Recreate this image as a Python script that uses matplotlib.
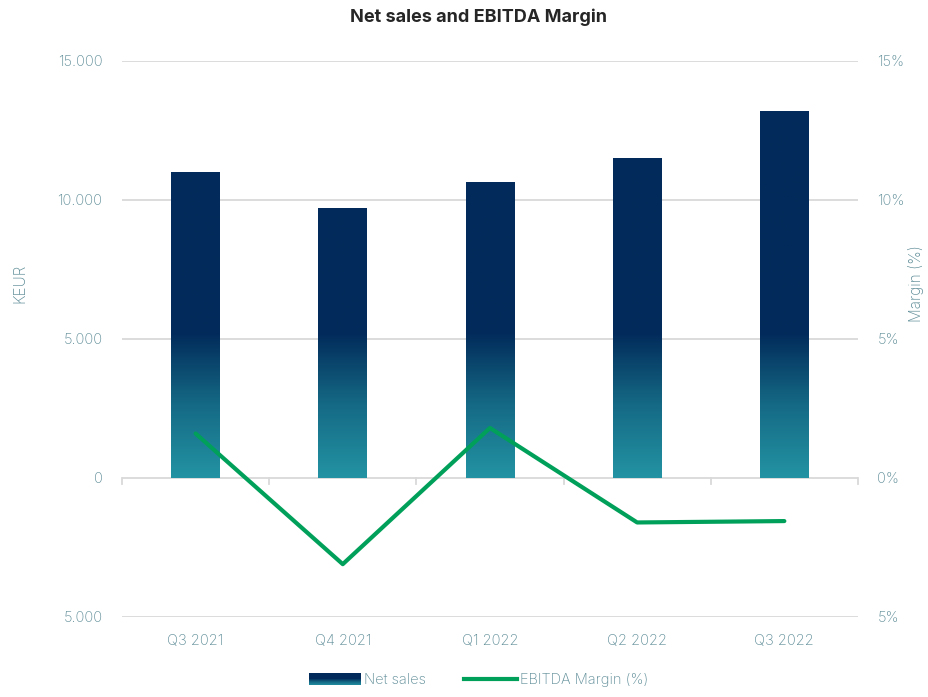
import numpy as np
import matplotlib
matplotlib.use("Agg")
import matplotlib.pyplot as plt
from matplotlib.colors import LinearSegmentedColormap
from matplotlib.patches import Rectangle
from matplotlib.legend_handler import HandlerBase
from matplotlib.lines import Line2D
from matplotlib.ticker import FixedLocator

quarters = ["Q3 2021", "Q4 2021", "Q1 2022", "Q2 2022", "Q3 2022"]
net_sales = [11000, 9700, 10650, 11500, 13200]          # KEUR
ebitda_margin = [1.6, -3.1, 1.8, -1.6, -1.55]           # %

left_ticks = [-5000, 0, 5000, 10000, 15000]
left_labels = ["5.000", "0", "5.000", "10.000", "15.000"]
right_ticks = [-5, 0, 5, 10, 15]
right_labels = ["5%", "0%", "5%", "10%", "15%"]

NAVY = "#022b5b"
TEAL = "#2393a3"
GREEN = "#00a05a"
TXT = "#5f8d98"
GRID = "#d9d9d9"

cmap = LinearSegmentedColormap.from_list("sales", [TEAL, "#156a85", NAVY])

plt.rcParams["font.family"] = ["Inter", "DejaVu Sans"]

fig = plt.figure(figsize=(9.29, 6.97), dpi=100)
ax = fig.add_axes([0.1313, 0.1148, 0.7922, 0.7977])
ax2 = ax.twinx()

x = np.arange(len(quarters))
width = 0.33
bars = ax.bar(x, net_sales, width, color="none", zorder=2)

ax.set_xlim(-0.5, len(quarters) - 0.5)
ax.set_ylim(-5000, 15000)

# vertical gradient, teal at 0 to navy at ~5000 and above
yy = np.linspace(0, 15000, 400)
grad = np.clip(yy / 5200, 0, 1).reshape(-1, 1)
for b in bars:
    bx, bw = b.get_x(), b.get_width()
    im = ax.imshow(grad, cmap=cmap, vmin=0, vmax=1, origin="lower",
                   extent=(bx, bx + bw, 0, 15000), aspect="auto", zorder=2)
    im.set_clip_path(b)
ax.set_xlim(-0.5, len(quarters) - 0.5)
ax.set_ylim(-5000, 15000)

ax2.set_ylim(-5, 15)
ax2.plot(x, ebitda_margin, color=GREEN, lw=3, zorder=3, solid_capstyle="round")

# grid and axes
for v in left_ticks:
    if v != 0:
        ax.axhline(v, color=GRID, lw=1.3, zorder=0)
ax.axhline(0, color=GRID, lw=1.3, zorder=1)
for xb in np.arange(-0.5, len(quarters), 1):
    ax.plot([xb, xb], [0, -220], color=GRID, lw=1.3, zorder=1, clip_on=False)

for a in (ax, ax2):
    for s in a.spines.values():
        s.set_visible(False)
    a.tick_params(length=0, colors=TXT, labelsize=10.5)

ax.yaxis.set_major_locator(FixedLocator(left_ticks))
ax.set_yticklabels(left_labels, fontweight="light")
ax2.yaxis.set_major_locator(FixedLocator(right_ticks))
ax2.set_yticklabels(right_labels, fontweight="light")
ax.tick_params(axis="y", pad=14)
ax2.tick_params(axis="y", pad=14)
ax.set_xticks(x)
ax.set_xticklabels(quarters, fontweight="light")
ax.tick_params(axis="x", pad=12)

ax.set_ylabel("KEUR", color=TXT, fontsize=11, fontweight="light")
ax.yaxis.set_label_coords(-0.128, 0.6)
ax2.set_ylabel("Margin (%)", color=TXT, fontsize=11, fontweight="light")
ax2.yaxis.set_label_coords(1.068, 0.6)

fig.suptitle("Net sales and EBITDA Margin", x=0.515, y=0.988, fontsize=13,
             fontweight="bold", color="#262626")


class GradientHandler(HandlerBase):
    # legend swatch: navy on top fading to teal at the bottom
    def create_artists(self, legend, orig_handle, xdescent, ydescent,
                       width, height, fontsize, trans):
        n = 12
        arts = []
        for i in range(n):
            frac = i / (n - 1)
            c = cmap(1.0 if frac < 0.45 else 1 - (frac - 0.45) / 0.55 * 0.85)
            r = Rectangle((-xdescent, -ydescent + height * (1 - (i + 1) / n)),
                          width, height / n + 0.3, facecolor=c, edgecolor="none",
                          transform=trans)
            arts.append(r)
        return arts


sales_handle = Rectangle((0, 0), 1, 1)
line_handle = Line2D([], [], color=GREEN, lw=3)
leg = fig.legend([sales_handle, line_handle], ["Net sales", "EBITDA Margin (%)"],
                 handler_map={Rectangle: GradientHandler()},
                 loc="lower center", bbox_to_anchor=(0.515, -0.005), ncol=2,
                 frameon=False, fontsize=10.5, handlelength=3.6, handleheight=0.9,
                 columnspacing=2.6, handletextpad=0.2)
for t in leg.get_texts():
    t.set_color(TXT)
    t.set_fontweight("light")

fig.savefig("out.png", dpi=100)
